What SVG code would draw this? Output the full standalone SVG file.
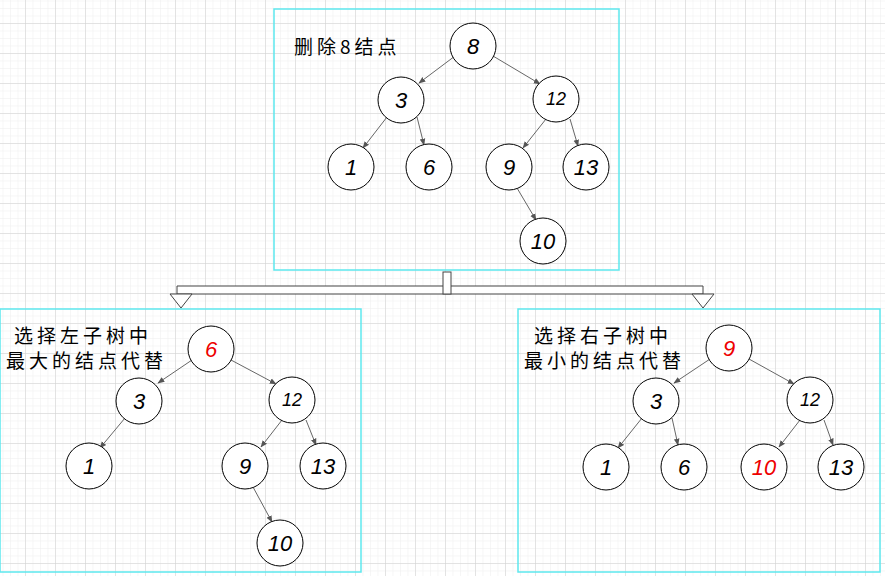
<svg xmlns="http://www.w3.org/2000/svg" width="885" height="576" viewBox="0 0 885 576">
<defs>
<pattern id="minor" x="25" y="23" width="7.5" height="7.5" patternUnits="userSpaceOnUse"><path d="M0,0H7.5M0,0V7.5" stroke="#eeeeee" stroke-width="1" fill="none"/></pattern>
<pattern id="major" x="25" y="23" width="30" height="30" patternUnits="userSpaceOnUse"><path d="M0,0H30M0,0V30" stroke="#d0d0d0" stroke-width="1" fill="none"/></pattern>
<marker id="ar" viewBox="0 0 10 10" refX="9" refY="5" markerWidth="7" markerHeight="7" orient="auto"><path d="M0,1L10,5L0,9z" fill="#555"/></marker>
</defs>
<style>
.n circle{fill:#fff;stroke:#000;stroke-width:1}
.n text{font-family:"Liberation Sans",sans-serif;font-style:italic;font-size:22px;text-anchor:middle;dominant-baseline:central;fill:#000}
.n.red text{fill:#e00}
.box{fill:none;stroke:#5ee8ee;stroke-width:1.5}
.e line{stroke:#666;stroke-width:1;marker-end:url(#ar)}
.lab{font-family:"Noto Sans CJK SC",sans-serif;font-size:19px;letter-spacing:4px;fill:#000}
</style>
<rect width="885" height="576" fill="#fff"/>
<rect width="885" height="576" fill="url(#minor)"/>
<rect width="885" height="576" fill="url(#major)"/>
<rect class="box" x="274" y="9" width="345" height="261"/>
<rect class="box" x="0" y="309" width="361" height="263"/>
<rect class="box" x="518" y="309" width="362" height="263"/>
<g id="connectors">
<g class="e">
<line x1="455" y1="56" x2="419" y2="83"/><line x1="493" y1="56" x2="540" y2="84"/>
<line x1="387" y1="117" x2="363" y2="148"/><line x1="417" y1="117" x2="424" y2="145"/>
<line x1="546" y1="119" x2="523" y2="148"/><line x1="570" y1="119" x2="578" y2="146"/>
<line x1="517" y1="188" x2="536" y2="220"/>
<line x1="192" y1="360" x2="158" y2="383"/><line x1="231" y1="360" x2="276" y2="384"/>
<line x1="125" y1="418" x2="100" y2="448"/>
<line x1="282" y1="420" x2="261" y2="447"/><line x1="306" y1="420" x2="316" y2="445"/>
<line x1="253" y1="487" x2="272" y2="522"/>
<line x1="710" y1="359" x2="674" y2="383"/><line x1="749" y1="359" x2="794" y2="384"/>
<line x1="642" y1="418" x2="618" y2="448"/><line x1="672" y1="418" x2="678" y2="445"/>
<line x1="800" y1="420" x2="779" y2="447"/><line x1="824" y1="420" x2="833" y2="445"/>
</g>
<g fill="#fff" stroke="#444" stroke-width="1">
<path d="M177,294V286H703V294H695H192H177Z"/>
<path d="M170,294H192L181,308Z"/>
<path d="M692,294H714L703,308Z"/>
<rect x="443" y="272" width="8" height="22"/>
</g>
</g>
<text class="lab" x="294" y="54">删除8结点</text>
<text class="lab" x="14" y="343">选择左子树中</text>
<text class="lab" x="6" y="368">最大的结点代替</text>
<text class="lab" x="534" y="343">选择右子树中</text>
<text class="lab" x="524" y="368">最小的结点代替</text>
<g id="t8" class="n"><circle cx="473" cy="46" r="23"/><text x="473" y="46">8</text></g>
<g id="t3" class="n"><circle cx="401" cy="100" r="23"/><text x="401" y="100">3</text></g>
<g id="t12" class="n"><circle cx="556" cy="99" r="23"/><text x="556" y="99" style="font-size:18px">12</text></g>
<g id="t1" class="n"><circle cx="351" cy="167" r="23"/><text x="351" y="167">1</text></g>
<g id="t6" class="n"><circle cx="429" cy="167" r="23"/><text x="429" y="167">6</text></g>
<g id="t9" class="n"><circle cx="509" cy="167" r="23"/><text x="509" y="167">9</text></g>
<g id="t13" class="n"><circle cx="586" cy="167" r="23"/><text x="586" y="167">13</text></g>
<g id="t10" class="n"><circle cx="543" cy="241" r="23"/><text x="543" y="241">10</text></g>
<g id="l6" class="n red"><circle cx="211" cy="349" r="23"/><text x="211" y="349">6</text></g>
<g id="l3" class="n"><circle cx="139" cy="401" r="23"/><text x="139" y="401">3</text></g>
<g id="l12" class="n"><circle cx="292" cy="400" r="23"/><text x="292" y="400" style="font-size:18px">12</text></g>
<g id="l1" class="n"><circle cx="89" cy="466" r="23"/><text x="89" y="466">1</text></g>
<g id="l9" class="n"><circle cx="245" cy="466" r="23"/><text x="245" y="466">9</text></g>
<g id="l13" class="n"><circle cx="323" cy="466" r="23"/><text x="323" y="466">13</text></g>
<g id="l10" class="n"><circle cx="280" cy="543" r="23"/><text x="280" y="543">10</text></g>
<g id="r9" class="n red"><circle cx="729" cy="348" r="23"/><text x="729" y="348">9</text></g>
<g id="r3" class="n"><circle cx="656" cy="401" r="23"/><text x="656" y="401">3</text></g>
<g id="r12" class="n"><circle cx="810" cy="400" r="23"/><text x="810" y="400" style="font-size:18px">12</text></g>
<g id="r1" class="n"><circle cx="606" cy="467" r="23"/><text x="606" y="467">1</text></g>
<g id="r6" class="n"><circle cx="684" cy="467" r="23"/><text x="684" y="467">6</text></g>
<g id="r10" class="n red"><circle cx="764" cy="467" r="23"/><text x="764" y="467">10</text></g>
<g id="r13" class="n"><circle cx="841" cy="467" r="23"/><text x="841" y="467">13</text></g>
</svg>
